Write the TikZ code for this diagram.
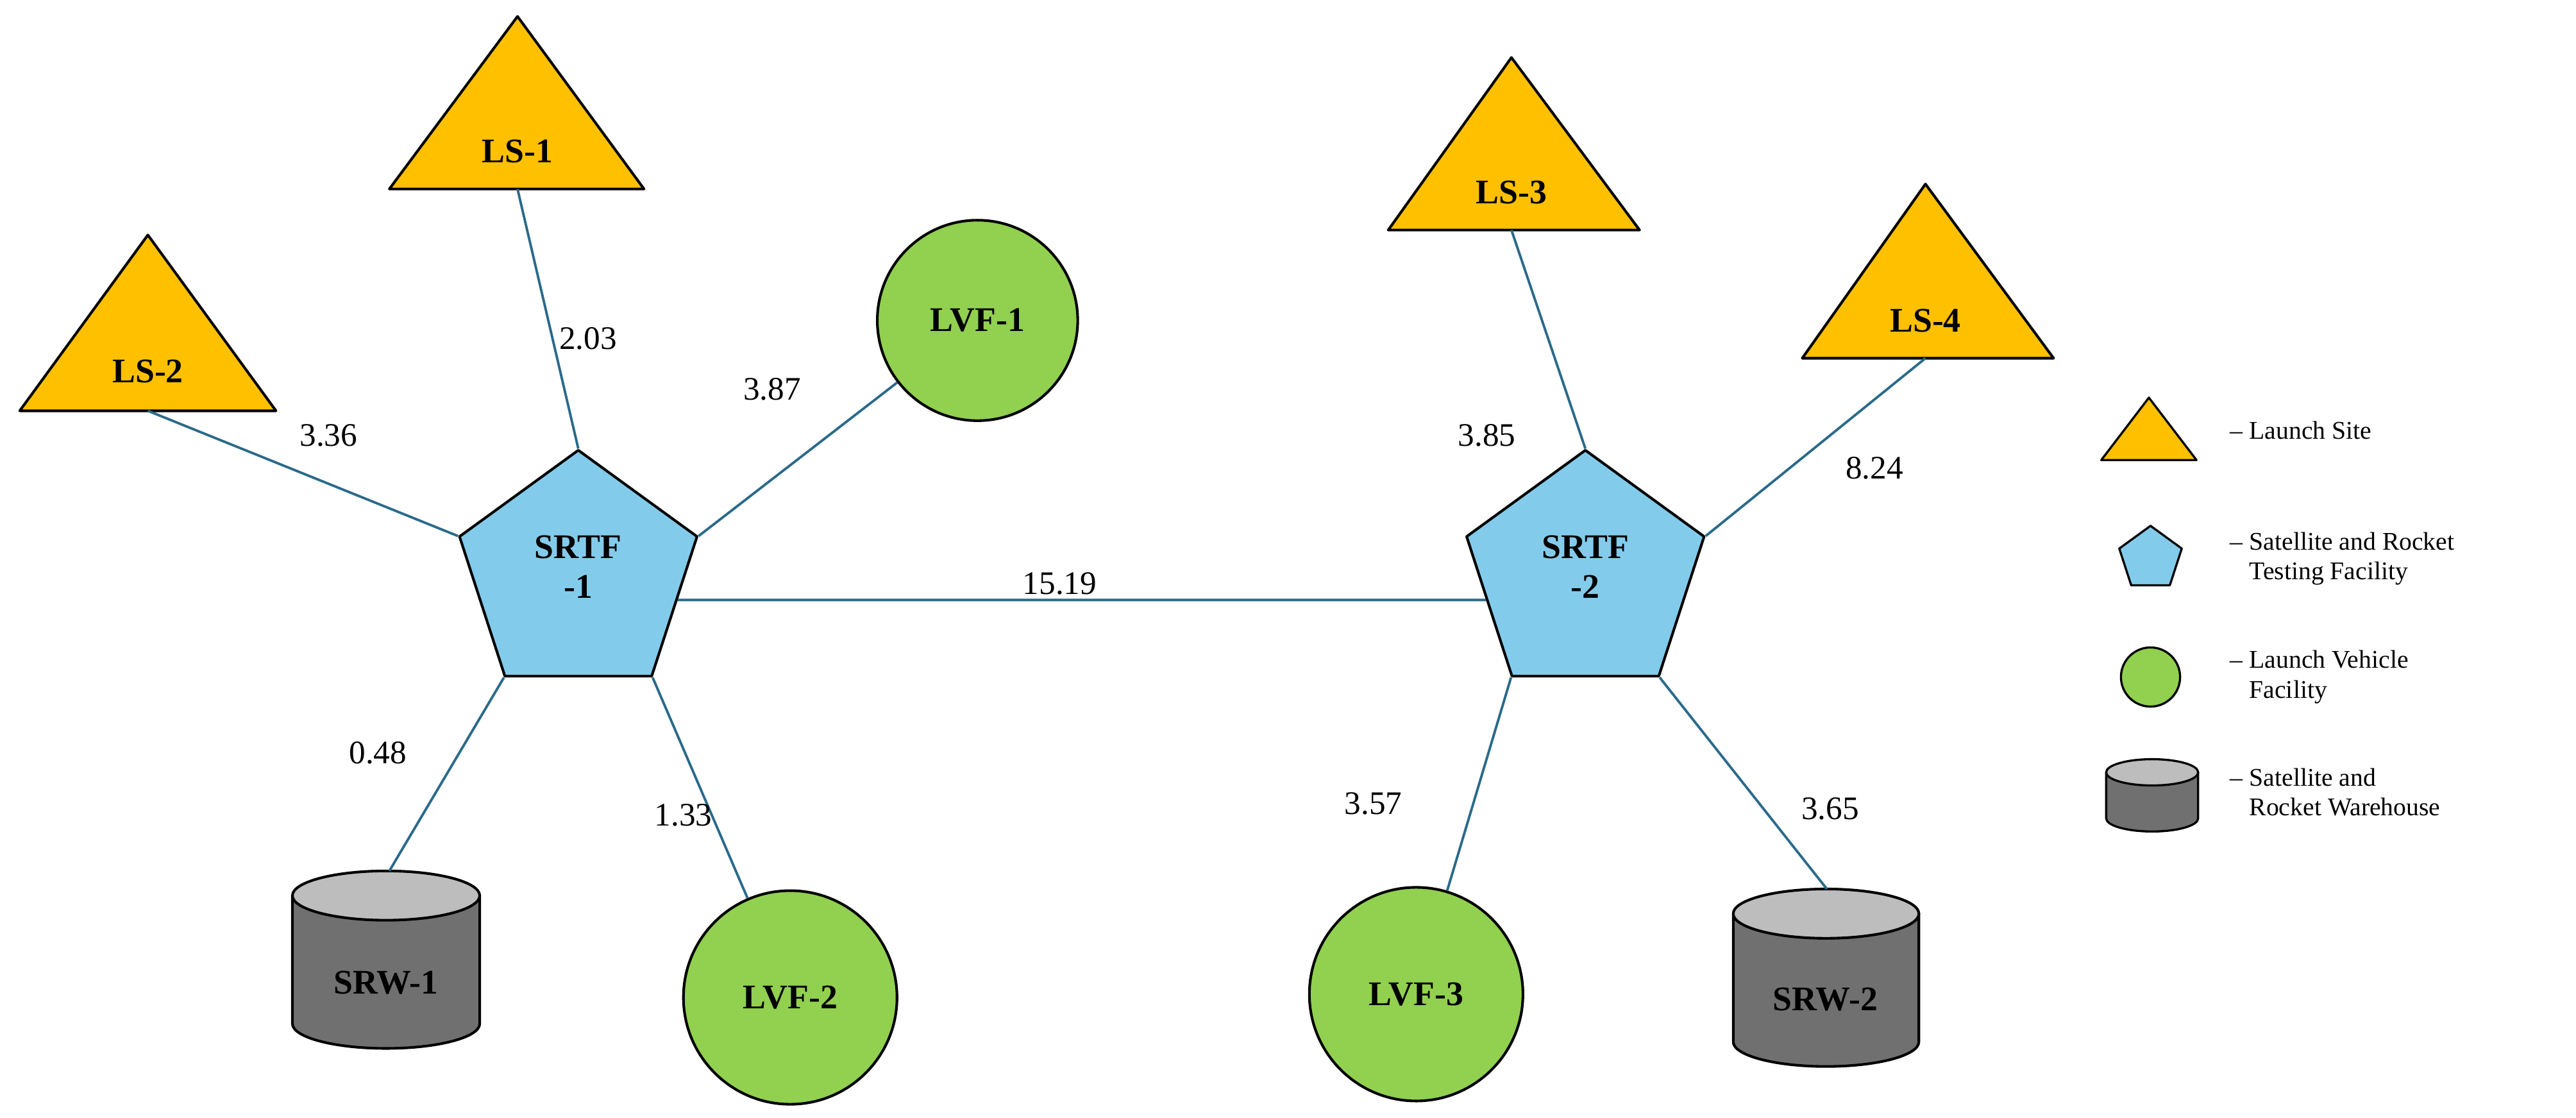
\documentclass[tikz,border=0pt]{standalone}
\usepackage{fontspec}
\setmainfont{Liberation Serif}
\usetikzlibrary{shapes.geometric}
\definecolor{ylw}{HTML}{FFC000}
\definecolor{blu}{HTML}{83CBEB}
\definecolor{grn}{HTML}{92D050}
\definecolor{gry}{HTML}{707070}
\definecolor{lgry}{HTML}{BDBDBD}
\definecolor{edge}{HTML}{2A6A8A}
\begin{document}
\begin{tikzpicture}[x=1pt,y=-1pt,
  shp/.style={draw=black,line width=1.6pt,line join=round},
  lbl/.style={font=\fontsize{21}{24}\selectfont\bfseries,align=center},
  num/.style={font=\fontsize{20}{22}\selectfont},
  leg/.style={font=\fontsize{15.5}{18}\selectfont,align=left,anchor=west},
  pent/.style={shp,fill=blu,regular polygon,regular polygon sides=5,minimum size=152pt,inner sep=0pt},
  circ/.style={shp,fill=grn,circle,inner sep=0pt},
  con/.style={draw=edge,line width=1.5pt}]
\useasboundingbox (0,0) rectangle (1568,680);
% triangles
\draw[shp,fill=ylw] (315,10) -- (392,115) -- (237,115) -- cycle;
\node[lbl] (ls1) at (315,92) {LS-1}; \coordinate (ls1b) at (315,115);
\draw[shp,fill=ylw] (90,143) -- (168,250) -- (12,250) -- cycle;
\node[lbl] (ls2) at (90,226) {LS-2}; \coordinate (ls2b) at (90,250);
\draw[shp,fill=ylw] (920,35) -- (998,140) -- (845,140) -- cycle;
\node[lbl] (ls3) at (920,117) {LS-3}; \coordinate (ls3b) at (920,140);
\draw[shp,fill=ylw] (1172,112) -- (1250,218) -- (1097,218) -- cycle;
\node[lbl] (ls4) at (1172,195) {LS-4}; \coordinate (ls4b) at (1172,218);
% pentagons
\node[pent] (s1) at (352,350) {}; \node[lbl] at (352,345) {SRTF\\-1};
\node[pent] (s2) at (965,350) {}; \node[lbl] at (965,345) {SRTF\\-2};
% circles
\node[circ,minimum size=122pt,lbl] (lvf1) at (595,195) {LVF-1};
\node[circ,minimum size=130pt,lbl] (lvf2) at (481,607) {LVF-2};
\node[circ,minimum size=130pt,lbl] (lvf3) at (862,605) {LVF-3};
% cylinders
\draw[shp,fill=gry] (178,545) -- (178,623) arc(180:0:57 and 15) -- (292,545) -- cycle;
\draw[shp,fill=lgry] (235,545) ellipse (57 and 15);
\node[lbl] (srw1) at (235,598) {SRW-1}; \coordinate (srw1t) at (237,530);
\draw[shp,fill=gry] (1055,556) -- (1055,634) arc(180:0:56.5 and 15) -- (1168,556) -- cycle;
\draw[shp,fill=lgry] (1111.5,556) ellipse (56.5 and 15);
\node[lbl] (srw2) at (1111,608) {SRW-2}; \coordinate (srw2t) at (1112,541);
% connectors
\draw[con] (ls1b) -- (s1.corner 1);
\draw[con] (ls2b) -- (s1.corner 2);
\draw[con] (lvf1) -- (s1.corner 5);
\draw[con] (srw1t) -- (s1.corner 3);
\draw[con] (lvf2) -- (s1.corner 4);
\draw[con] (s1.-14) -- (s2.194);
\draw[con] (ls3b) -- (s2.corner 1);
\draw[con] (ls4b) -- (s2.corner 5);
\draw[con] (lvf3) -- (s2.corner 3);
\draw[con] (srw2t) -- (s2.corner 4);
% labels
\node[num] at (358,206) {2.03};
\node[num] at (200,265) {3.36};
\node[num] at (470,237) {3.87};
\node[num] at (230,458) {0.48};
\node[num] at (416,496) {1.33};
\node[num] at (645,355) {15.19};
\node[num] at (905,265) {3.85};
\node[num] at (1141,285) {8.24};
\node[num] at (836,489) {3.57};
\node[num] at (1114,492) {3.65};
% legend
\draw[shp,line width=1.3pt,fill=ylw] (1308,242) -- (1337,280) -- (1279,280) -- cycle;
\node[leg] at (1354,262) {-- Launch Site};
\node[shp,line width=1.3pt,fill=blu,regular polygon,regular polygon sides=5,minimum size=40pt,inner sep=0pt] (lp) at (1309,340) {};
\node[leg] at (1354,340) {-- Satellite and Rocket\\\phantom{-- }Testing Facility};
\node[shp,line width=1.3pt,fill=grn,circle,minimum size=36pt,inner sep=0pt] (lc) at (1309,412) {};
\node[leg] at (1354,412) {-- Launch Vehicle\\\phantom{-- }Facility};
\draw[shp,line width=1.3pt,fill=gry] (1282,470) -- (1282,498) arc(180:0:28 and 8) -- (1338,470) -- cycle;
\draw[shp,line width=1.3pt,fill=lgry] (1310,470) ellipse (28 and 8);
\node[leg] at (1354,482) {-- Satellite and\\\phantom{-- }Rocket Warehouse};
\end{tikzpicture}
\end{document}
